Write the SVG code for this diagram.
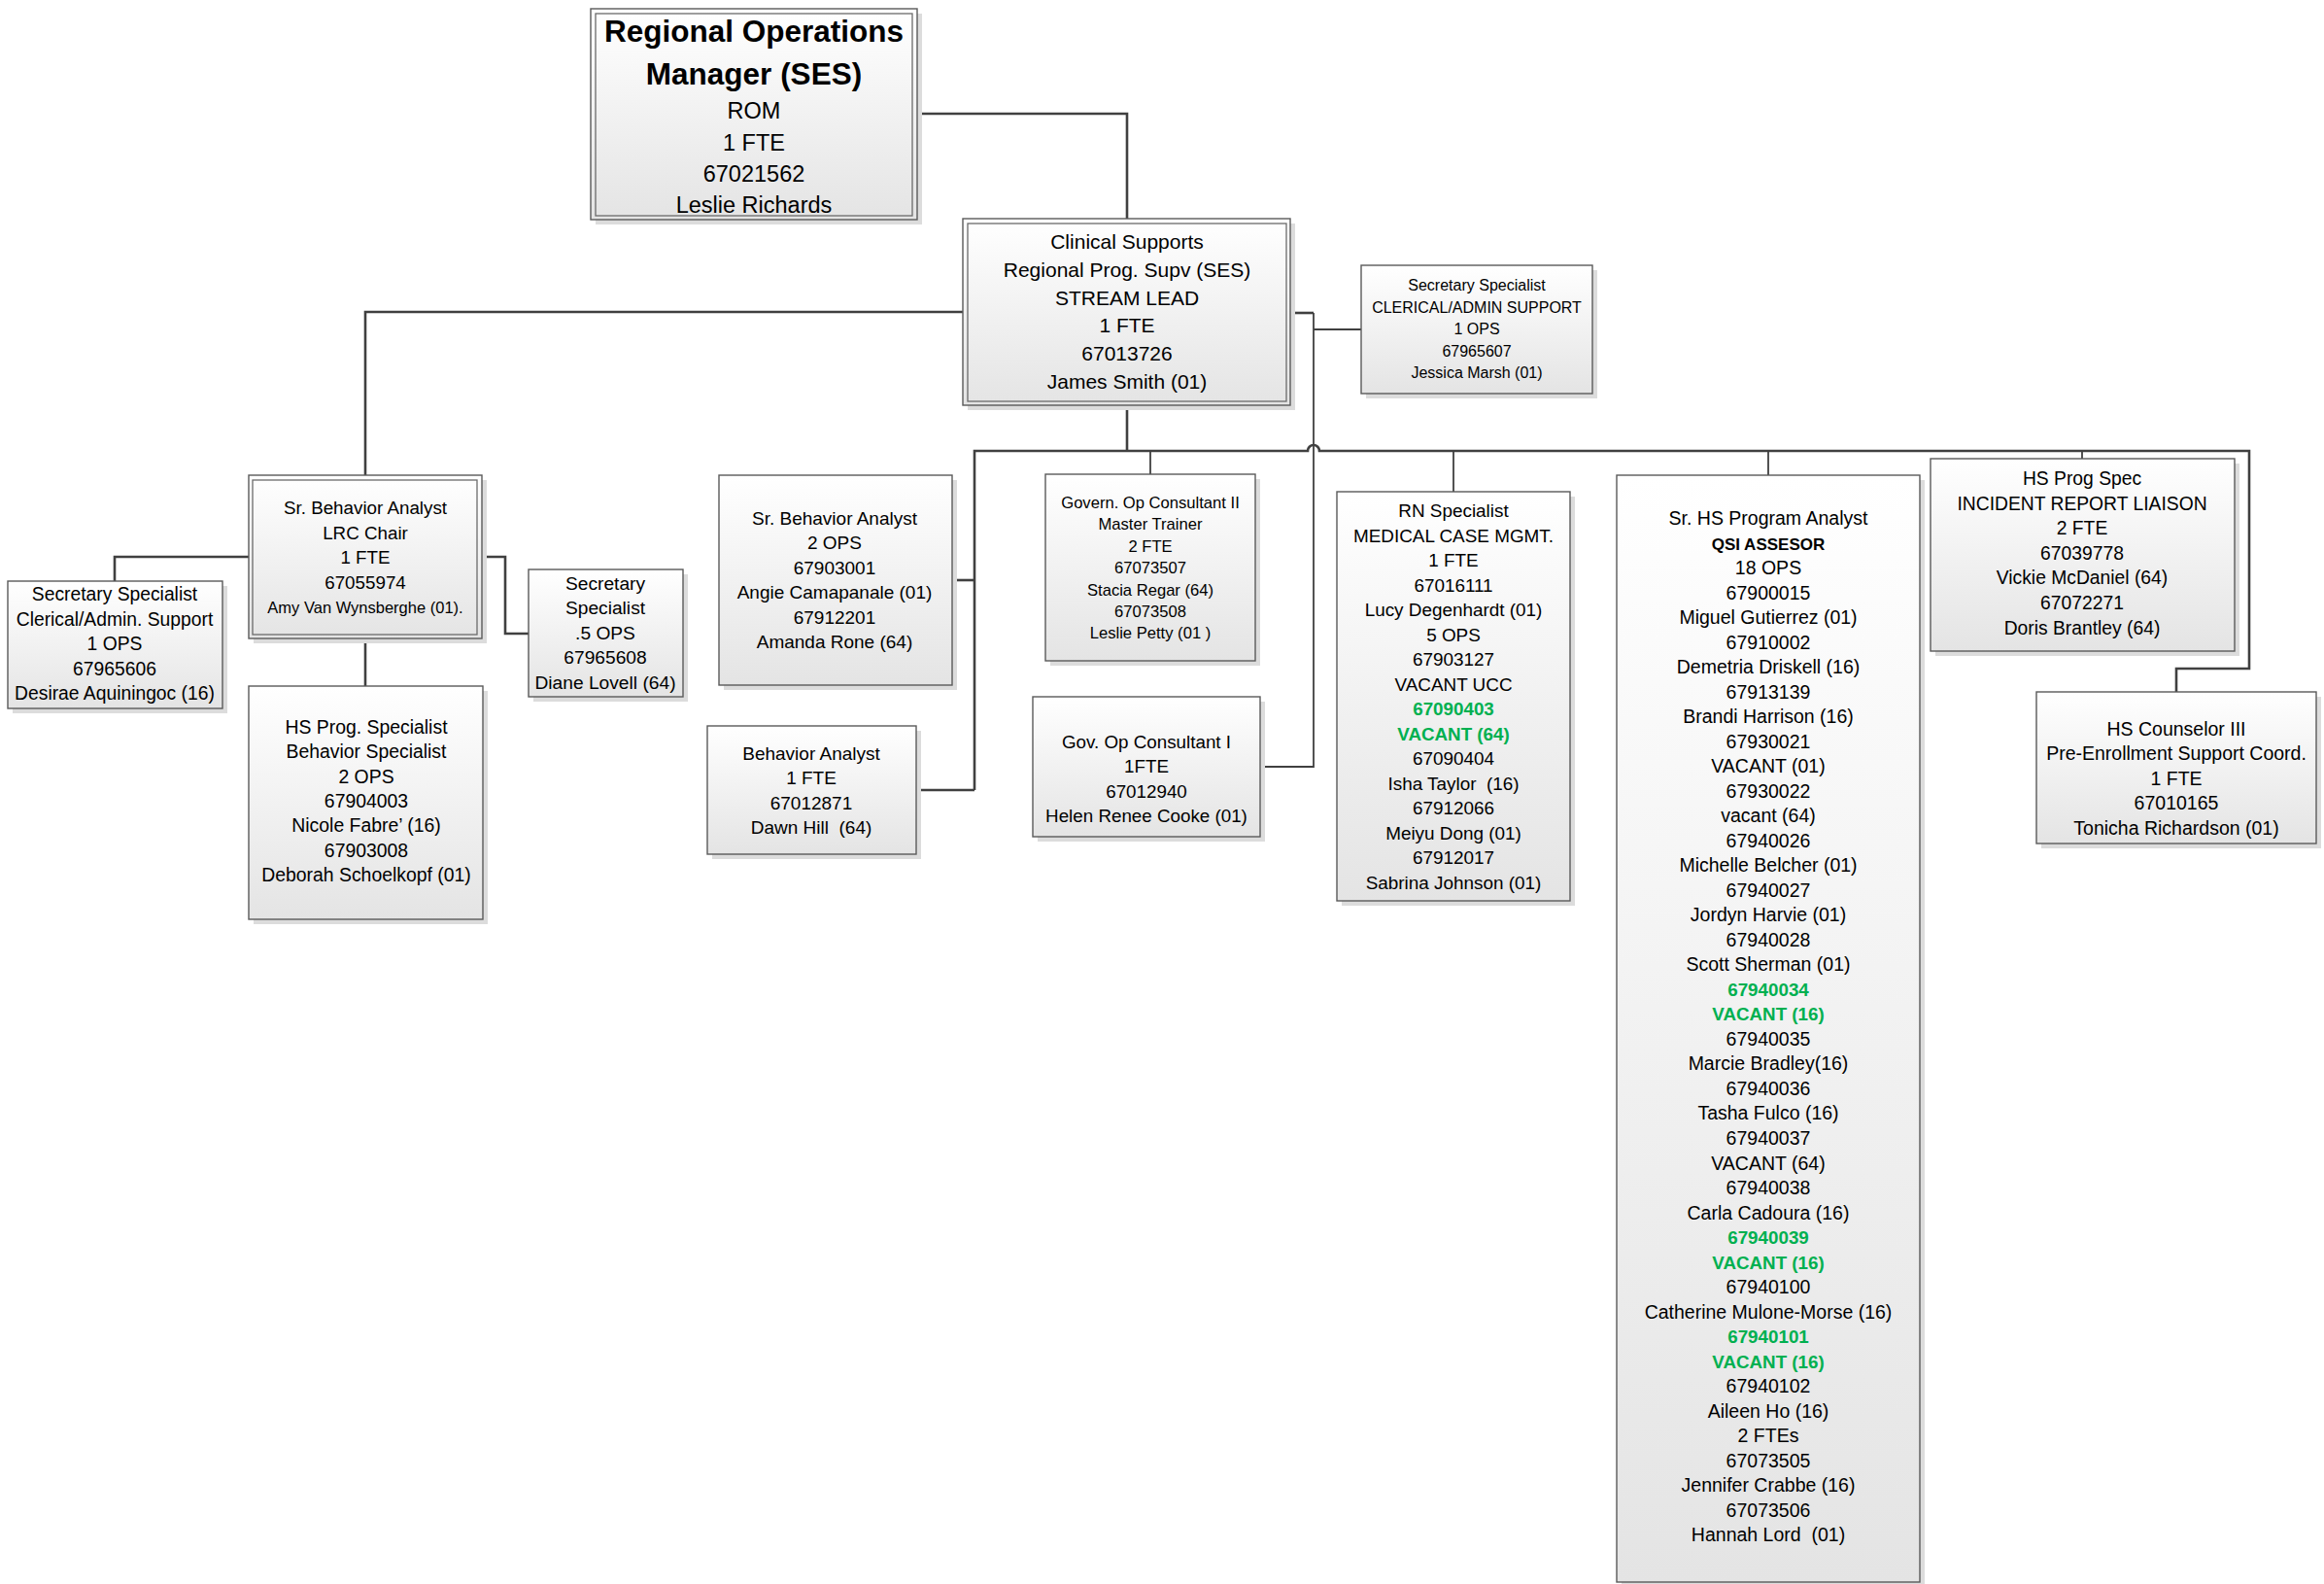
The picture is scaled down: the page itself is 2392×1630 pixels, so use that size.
<svg xmlns="http://www.w3.org/2000/svg" width="2392" height="1630" viewBox="0 0 2392 1630">
<defs>
<linearGradient id="gf" x1="0" y1="0" x2="0" y2="1">
<stop offset="0" stop-color="#ffffff"/>
<stop offset="1" stop-color="#e4e4e4"/>
</linearGradient>
<style>
.sh{fill:#dcdcdc}
.box{fill:url(#gf);stroke:#5a5a5a;stroke-width:1.4}
.in{fill:none;stroke:#6a6a6a;stroke-width:1.3}
.t{font-family:'Liberation Sans',Arial,sans-serif;text-anchor:middle;fill:#000}
.b{font-weight:bold}
.gr{font-weight:bold;fill:#00b050;font-size:18.8px}
.c{fill:none;stroke:#404040;stroke-width:2.6}
.ct{fill:none;stroke:#404040;stroke-width:1.8}
</style>
</defs>
<rect width="2392" height="1630" fill="#ffffff"/>

<g id="connectors">
<path class="c" d="M944,117 H1160 V226"/>
<path class="c" d="M991,321 H376 V489"/>
<path class="c" d="M1328,322 H1352"/>
<path class="ct" d="M1352,322 V789 H1297"/>
<path class="ct" d="M1352,339 H1401"/>
<path class="c" d="M1160,417 V464"/>
<path class="c" d="M1003,813 V464 H1346 A6,6 0 0 1 1358,464 H2315 V688 H2240 V712"/>
<path class="c" d="M980,597 H1003"/>
<path class="c" d="M943,813 H1003"/>
<path class="ct" d="M1184,464 V488"/>
<path class="ct" d="M1496,464 V506"/>
<path class="ct" d="M1820,464 V489"/>
<path class="ct" d="M2143,464 V472"/>
<path class="c" d="M256,573 H118 V598"/>
<path class="c" d="M496,573 H520 V652 H544"/>
<path class="c" d="M376,657 V706"/>
</g>

<g id="rom">
<rect class="sh" x="613" y="14" width="336" height="217"/>
<rect class="box" x="608" y="9" width="336" height="217"/>
<rect class="in" x="613" y="14" width="326" height="208"/>
<text class="t b" font-size="31.5"><tspan x="776" y="43">Regional Operations</tspan><tspan x="776" y="87">Manager (SES)</tspan></text>
<text class="t" font-size="23.5"><tspan x="776" y="122">ROM</tspan><tspan x="776" y="155">1 FTE</tspan><tspan x="776" y="187">67021562</tspan><tspan x="776" y="219">Leslie Richards</tspan></text>
</g>

<g id="clinical">
<rect class="sh" x="996" y="230" width="337" height="192"/>
<rect class="box" x="991" y="225" width="337" height="192"/>
<rect class="in" x="996" y="230" width="328" height="183"/>
<text class="t" font-size="21"><tspan x="1160" y="256">Clinical Supports</tspan><tspan x="1160" y="285">Regional Prog. Supv (SES)</tspan><tspan x="1160" y="313.5">STREAM LEAD</tspan><tspan x="1160" y="342">1 FTE</tspan><tspan x="1160" y="370.5">67013726</tspan><tspan x="1160" y="399.5">James Smith (01)</tspan></text>
</g>

<g id="sec-clerical">
<rect class="sh" x="1406" y="278" width="238" height="132"/>
<rect class="box" x="1401" y="273" width="238" height="132"/>
<text class="t" font-size="16" x="1520" y="299"><tspan x="1520">Secretary Specialist</tspan><tspan x="1520" dy="22.6">CLERICAL/ADMIN SUPPORT</tspan><tspan x="1520" dy="22.6">1 OPS</tspan><tspan x="1520" dy="22.6">67965607</tspan><tspan x="1520" dy="22.6">Jessica Marsh (01)</tspan></text>
</g>

<g id="lrc">
<rect class="sh" x="261" y="494" width="240" height="168"/>
<rect class="box" x="256" y="489" width="240" height="168"/>
<rect class="in" x="260" y="494" width="231" height="159"/>
<text class="t" font-size="18.8" x="376" y="529"><tspan x="376">Sr. Behavior Analyst</tspan><tspan x="376" dy="25.5">LRC Chair</tspan><tspan x="376" dy="25.5">1 FTE</tspan><tspan x="376" dy="25.5">67055974</tspan><tspan x="376" dy="25.5" font-size="16.5">Amy Van Wynsberghe (01).</tspan></text>
</g>

<g id="sec-left">
<rect class="sh" x="13" y="603" width="221" height="131"/>
<rect class="box" x="8" y="598" width="221" height="131"/>
<text class="t" font-size="19.3" x="118" y="618"><tspan x="118">Secretary Specialist</tspan><tspan x="118" dy="25.5">Clerical/Admin. Support</tspan><tspan x="118" dy="25.5">1 OPS</tspan><tspan x="118" dy="25.5">67965606</tspan><tspan x="118" dy="25.5">Desirae Aquiningoc (16)</tspan></text>
</g>

<g id="sec-half">
<rect class="sh" x="549" y="591" width="159" height="131"/>
<rect class="box" x="544" y="586" width="159" height="131"/>
<text class="t" font-size="19.2" x="623" y="607"><tspan x="623">Secretary</tspan><tspan x="623" dy="25.4">Specialist</tspan><tspan x="623" dy="25.4">.5 OPS</tspan><tspan x="623" dy="25.4">67965608</tspan><tspan x="623" dy="25.4">Diane Lovell (64)</tspan></text>
</g>

<g id="hs-prog-specialist">
<rect class="sh" x="261" y="711" width="241" height="240"/>
<rect class="box" x="256" y="706" width="241" height="240"/>
<text class="t" font-size="19.4" x="377" y="755"><tspan x="377">HS Prog. Specialist</tspan><tspan x="377" dy="25.3">Behavior Specialist</tspan><tspan x="377" dy="25.3">2 OPS</tspan><tspan x="377" dy="25.3">67904003</tspan><tspan x="377" dy="25.3">Nicole Fabre’ (16)</tspan><tspan x="377" dy="25.3">67903008</tspan><tspan x="377" dy="25.3">Deborah Schoelkopf (01)</tspan></text>
</g>

<g id="sr-ba-2ops">
<rect class="sh" x="745" y="494" width="240" height="216"/>
<rect class="box" x="740" y="489" width="240" height="216"/>
<text class="t" font-size="19" x="859" y="540"><tspan x="859">Sr. Behavior Analyst</tspan><tspan x="859" dy="25.4">2 OPS</tspan><tspan x="859" dy="25.4">67903001</tspan><tspan x="859" dy="25.4">Angie Camapanale (01)</tspan><tspan x="859" dy="25.4">67912201</tspan><tspan x="859" dy="25.4">Amanda Rone (64)</tspan></text>
</g>

<g id="ba">
<rect class="sh" x="733" y="752" width="215" height="132"/>
<rect class="box" x="728" y="747" width="215" height="132"/>
<text class="t" font-size="19" x="835" y="782" xml:space="preserve"><tspan x="835">Behavior Analyst</tspan><tspan x="835" dy="25.4">1 FTE</tspan><tspan x="835" dy="25.4">67012871</tspan><tspan x="835" dy="25.4">Dawn Hill  (64)</tspan></text>
</g>

<g id="gov-op-2">
<rect class="sh" x="1081" y="493" width="216" height="192"/>
<rect class="box" x="1076" y="488" width="216" height="192"/>
<text class="t" font-size="16.6" x="1184" y="523"><tspan x="1184">Govern. Op Consultant II</tspan><tspan x="1184" dy="22.4">Master Trainer</tspan><tspan x="1184" dy="22.4">2 FTE</tspan><tspan x="1184" dy="22.4">67073507</tspan><tspan x="1184" dy="22.4">Stacia Regar (64)</tspan><tspan x="1184" dy="22.4">67073508</tspan><tspan x="1184" dy="22.4">Leslie Petty (01 )</tspan></text>
</g>

<g id="gov-op-1">
<rect class="sh" x="1068" y="722" width="234" height="144"/>
<rect class="box" x="1063" y="717" width="234" height="144"/>
<text class="t" font-size="18.8" x="1180" y="770"><tspan x="1180">Gov. Op Consultant I</tspan><tspan x="1180" dy="25.4">1FTE</tspan><tspan x="1180" dy="25.4">67012940</tspan><tspan x="1180" dy="25.4">Helen Renee Cooke (01)</tspan></text>
</g>

<g id="rn">
<rect class="sh" x="1381" y="511" width="240" height="421"/>
<rect class="box" x="1376" y="506" width="240" height="421"/>
<text class="t" font-size="18.9" x="1496" y="532" xml:space="preserve"><tspan x="1496">RN Specialist</tspan><tspan x="1496" dy="25.5">MEDICAL CASE MGMT.</tspan><tspan x="1496" dy="25.5">1 FTE</tspan><tspan x="1496" dy="25.5">67016111</tspan><tspan x="1496" dy="25.5">Lucy Degenhardt (01)</tspan><tspan x="1496" dy="25.5">5 OPS</tspan><tspan x="1496" dy="25.5">67903127</tspan><tspan x="1496" dy="25.5">VACANT UCC</tspan><tspan x="1496" dy="25.5" class="gr">67090403</tspan><tspan x="1496" dy="25.5" class="gr">VACANT (64)</tspan><tspan x="1496" dy="25.5">67090404</tspan><tspan x="1496" dy="25.5">Isha Taylor  (16)</tspan><tspan x="1496" dy="25.5">67912066</tspan><tspan x="1496" dy="25.5">Meiyu Dong (01)</tspan><tspan x="1496" dy="25.5">67912017</tspan><tspan x="1496" dy="25.5">Sabrina Johnson (01)</tspan></text>
</g>

<g id="sr-hs-analyst">
<rect class="sh" x="1669" y="494" width="312" height="1139"/>
<rect class="box" x="1664" y="489" width="312" height="1139"/>
<text class="t" font-size="19.5" x="1820" y="540" xml:space="preserve"><tspan x="1820">Sr. HS Program Analyst</tspan><tspan x="1820" dy="25.52" class="b" font-size="17">QSI ASSESOR</tspan><tspan x="1820" dy="25.52">18 OPS</tspan><tspan x="1820" dy="25.52">67900015</tspan><tspan x="1820" dy="25.52">Miguel Gutierrez (01)</tspan><tspan x="1820" dy="25.52">67910002</tspan><tspan x="1820" dy="25.52">Demetria Driskell (16)</tspan><tspan x="1820" dy="25.52">67913139</tspan><tspan x="1820" dy="25.52">Brandi Harrison (16)</tspan><tspan x="1820" dy="25.52">67930021</tspan><tspan x="1820" dy="25.52">VACANT (01)</tspan><tspan x="1820" dy="25.52">67930022</tspan><tspan x="1820" dy="25.52">vacant (64)</tspan><tspan x="1820" dy="25.52">67940026</tspan><tspan x="1820" dy="25.52">Michelle Belcher (01)</tspan><tspan x="1820" dy="25.52">67940027</tspan><tspan x="1820" dy="25.52">Jordyn Harvie (01)</tspan><tspan x="1820" dy="25.52">67940028</tspan><tspan x="1820" dy="25.52">Scott Sherman (01)</tspan><tspan x="1820" dy="25.52" class="gr">67940034</tspan><tspan x="1820" dy="25.52" class="gr">VACANT (16)</tspan><tspan x="1820" dy="25.52">67940035</tspan><tspan x="1820" dy="25.52">Marcie Bradley(16)</tspan><tspan x="1820" dy="25.52">67940036</tspan><tspan x="1820" dy="25.52">Tasha Fulco (16)</tspan><tspan x="1820" dy="25.52">67940037</tspan><tspan x="1820" dy="25.52">VACANT (64)</tspan><tspan x="1820" dy="25.52">67940038</tspan><tspan x="1820" dy="25.52">Carla Cadoura (16)</tspan><tspan x="1820" dy="25.52" class="gr">67940039</tspan><tspan x="1820" dy="25.52" class="gr">VACANT (16)</tspan><tspan x="1820" dy="25.52">67940100</tspan><tspan x="1820" dy="25.52">Catherine Mulone-Morse (16)</tspan><tspan x="1820" dy="25.52" class="gr">67940101</tspan><tspan x="1820" dy="25.52" class="gr">VACANT (16)</tspan><tspan x="1820" dy="25.52">67940102</tspan><tspan x="1820" dy="25.52">Aileen Ho (16)</tspan><tspan x="1820" dy="25.52">2 FTEs</tspan><tspan x="1820" dy="25.52">67073505</tspan><tspan x="1820" dy="25.52">Jennifer Crabbe (16)</tspan><tspan x="1820" dy="25.52">67073506</tspan><tspan x="1820" dy="25.52">Hannah Lord  (01)</tspan></text>
</g>

<g id="hs-prog-spec">
<rect class="sh" x="1992" y="477" width="313" height="198"/>
<rect class="box" x="1987" y="472" width="313" height="198"/>
<text class="t" font-size="19.3" x="2143" y="499"><tspan x="2143">HS Prog Spec</tspan><tspan x="2143" dy="25.6">INCIDENT REPORT LIAISON</tspan><tspan x="2143" dy="25.6">2 FTE</tspan><tspan x="2143" dy="25.6">67039778</tspan><tspan x="2143" dy="25.6">Vickie McDaniel (64)</tspan><tspan x="2143" dy="25.6">67072271</tspan><tspan x="2143" dy="25.6">Doris Brantley (64)</tspan></text>
</g>

<g id="hs-counselor">
<rect class="sh" x="2101" y="717" width="288" height="156"/>
<rect class="box" x="2096" y="712" width="288" height="156"/>
<text class="t" font-size="19.5" x="2240" y="757"><tspan x="2240">HS Counselor III</tspan><tspan x="2240" dy="25.4">Pre-Enrollment Support Coord.</tspan><tspan x="2240" dy="25.4">1 FTE</tspan><tspan x="2240" dy="25.4">67010165</tspan><tspan x="2240" dy="25.4">Tonicha Richardson (01)</tspan></text>
</g>
</svg>
